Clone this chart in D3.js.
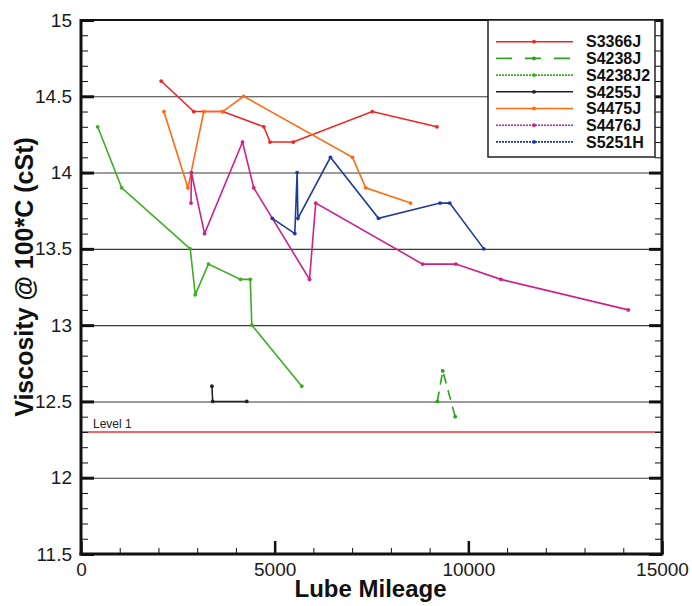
<!DOCTYPE html>
<html>
<head>
<meta charset="utf-8">
<script src="https://cdn.jsdelivr.net/npm/d3@7"></script>
<style>
  body { margin: 0; background: #fff; }
  svg { display: block; font-family: 'Liberation Sans', Arial, sans-serif; }
</style>
</head>
<body>
<div id="app"></div>
<script>
'use strict'

// series names in legend order
const seriesNames = ['S3366J', 'S4238J', 'S4238J2', 'S4255J', 'S4475J', 'S4476J', 'S5251H']
const seriesColors = ['#f02424', '#2e9e1e', '#3cae22', '#222222', '#ff6a12', '#cc2288', '#1d3b9a']

// lube mileage / viscosity
const mileS3366J = [2070, 2910, 3660, 4720, 4880, 5480, 7520, 9190]
const viscS3366J = [14.6, 14.4, 14.4, 14.3, 14.2, 14.2, 14.4, 14.3]

const mileS4238J = [9200, 9340, 9660]
const viscS4238J = [12.5, 12.7, 12.4]

const mileS4238J2 = [430, 1050, 2820, 2950, 3290, 4120, 4370, 4410, 5700]
const viscS4238J2 = [14.3, 13.9, 13.5, 13.2, 13.4, 13.3, 13.3, 13.0, 12.6]

const mileS4255J = [3380, 3400, 4280]
const viscS4255J = [12.6, 12.5, 12.5]

const mileS4475J = [2140, 2760, 3170, 3660, 4200, 7010, 7350, 8510]
const viscS4475J = [14.4, 13.9, 14.4, 14.4, 14.5, 14.1, 13.9, 13.8]

const mileS4476J = [2840, 2850, 3190, 4170, 4460, 5900, 6060, 8820, 9680, 10840, 14130]
const viscS4476J = [13.8, 14.0, 13.6, 14.2, 13.9, 13.3, 13.8, 13.4, 13.4, 13.3, 13.1]

const mileS5251H = [4940, 5520, 5580, 5600, 6440, 7680, 9270, 9520, 10400]
const viscS5251H = [13.7, 13.6, 14.0, 13.7, 14.1, 13.7, 13.8, 13.8, 13.5]

const levelName = 'Level 1'
const levelValue = 12.3

const xMajorTicks = [0, 5000, 10000, 15000]
const yMajorTicks = [11.5, 12, 12.5, 13, 13.5, 14, 14.5, 15]

const allMiles = [mileS3366J, mileS4238J, mileS4238J2, mileS4255J, mileS4475J, mileS4476J, mileS5251H]
const allVisc = [viscS3366J, viscS4238J, viscS4238J2, viscS4255J, viscS4475J, viscS4476J, viscS5251H]

const series = seriesNames.map((name, i) => ({
	name,
	color: seriesColors[i],
	values: allMiles[i].map((m, j) => ({ mile: m, visc: allVisc[i][j] }))
}))

// legend line styles (dashed / dotted), the plot uses them only for S4238J
const legendDash = { S4238J: '16,13', S4238J2: '2,1', S4476J: '2,1', S5251H: '2,1' }
const plotDash = { S4238J: '10,7' }

const main = () => {
	const margin = { top: 20, right: 30, bottom: 52, left: 81 }
	const width = 692 - margin.left - margin.right
	const height = 606 - margin.top - margin.bottom

	const x = d3.scaleLinear().domain([0, 15000]).range([0, width])
	const y = d3.scaleLinear().domain([11.5, 15]).range([height, 0])

	const svg = d3.select('#app').append('svg')
		.attr('width', 692)
		.attr('height', 606)
		.append('g')
		.attr('transform', `translate(${margin.left}, ${margin.top})`)

	// gridlines
	svg.append('g')
		.attr('class', 'grid')
		.call(d3.axisLeft(y).tickValues([12, 12.5, 13, 13.5, 14, 14.5]).tickSize(-width).tickFormat(''))
		.call(g => g.select('.domain').remove())
		.call(g => g.selectAll('line').attr('stroke', '#3a3a3a').attr('stroke-width', 1.1))

	// level line
	svg.append('line')
		.attr('x1', 0).attr('x2', width)
		.attr('y1', y(levelValue)).attr('y2', y(levelValue))
		.attr('stroke', '#f03030')
		.attr('stroke-width', 1.5)
	svg.append('text')
		.attr('x', 12)
		.attr('y', y(levelValue) - 4)
		.style('font-size', '12px')
		.style('fill', '#222')
		.text(levelName)

	/*
	 * series lines and markers
	 */
	const line = d3.line().x(d => x(d.mile)).y(d => y(d.visc))

	const groups = svg.selectAll('.series')
		.data(series)
		.enter().append('g')
		.attr('class', 'series')

	groups.append('path')
		.attr('d', d => line(d.values))
		.attr('fill', 'none')
		.attr('stroke', d => d.color)
		.attr('stroke-width', 1.6)
		.attr('stroke-dasharray', d => plotDash[d.name] || null)

	groups.selectAll('circle')
		.data(d => d.values.map(v => ({ ...v, color: d.color })))
		.enter().append('circle')
		.attr('cx', d => x(d.mile))
		.attr('cy', d => y(d.visc))
		.attr('r', 1.9)
		.attr('fill', d => d.color)

	/*
	 * ticks on all four frame sides
	 */
	const styleTicks = (g, w) => {
		g.select('.domain').remove()
		g.selectAll('line').attr('stroke', '#111').attr('stroke-width', w)
	}
	const yMinor = d3.range(11.5, 15.001, 0.1)
	const xMinor = d3.range(0, 15001, 1000)

	svg.append('g')
		.call(d3.axisLeft(y).tickValues(yMinor).tickSize(-7).tickFormat(''))
		.call(g => styleTicks(g, 1))
	svg.append('g')
		.attr('transform', `translate(${width}, 0)`)
		.call(d3.axisRight(y).tickValues(yMinor).tickSize(-7).tickFormat(''))
		.call(g => styleTicks(g, 1))
	svg.append('g')
		.attr('transform', `translate(${width}, 0)`)
		.call(d3.axisRight(y).tickValues(yMajorTicks).tickSize(-13).tickFormat(''))
		.call(g => styleTicks(g, 3))
	svg.append('g')
		.attr('transform', `translate(0, ${height})`)
		.call(d3.axisBottom(x).tickValues(xMinor).tickSize(-6).tickFormat(''))
		.call(g => styleTicks(g, 1))

	// left axis with labels
	svg.append('g')
		.attr('class', 'y axis')
		.call(d3.axisLeft(y).tickValues(yMajorTicks).tickSize(-13).tickPadding(9).tickFormat(d3.format('')))
		.call(g => styleTicks(g, 3))
		.call(g => g.selectAll('text').style('font-size', '19px').style('fill', '#1a1a1a'))

	// bottom axis with labels
	svg.append('g')
		.attr('class', 'x axis')
		.attr('transform', `translate(0, ${height})`)
		.call(d3.axisBottom(x).tickValues(xMajorTicks).tickSize(-13).tickPadding(9).tickFormat(d3.format('')))
		.call(g => styleTicks(g, 2.5))
		.call(g => g.selectAll('text').style('font-size', '19px').style('fill', '#1a1a1a'))

	// frame
	const frame = svg.append('g').attr('stroke', '#111').attr('fill', 'none')
	frame.append('line').attr('x1', 0).attr('x2', 0).attr('y1', -1).attr('y2', height + 1.5).attr('stroke-width', 3)
	frame.append('line').attr('x1', -1.5).attr('x2', width + 1.5).attr('y1', height).attr('y2', height).attr('stroke-width', 3)
	frame.append('line').attr('x1', width).attr('x2', width).attr('y1', -1).attr('y2', height).attr('stroke-width', 3)
	frame.append('line').attr('x1', 0).attr('x2', width).attr('y1', 0).attr('y2', 0).attr('stroke-width', 2)

	// axis titles
	svg.append('text')
		.attr('x', width / 2 - 1)
		.attr('y', height + 43)
		.attr('text-anchor', 'middle')
		.style('font-size', '24px')
		.style('font-weight', 'bold')
		.style('fill', '#111')
		.text('Lube Mileage')

	svg.append('text')
		.attr('transform', `translate(${-48}, ${277 - margin.top}) rotate(-90)`)
		.attr('text-anchor', 'middle')
		.style('font-size', '25px')
		.style('font-weight', 'bold')
		.style('fill', '#111')
		.text('Viscosity @ 100*C (cSt)')

	/*
	 * legend
	 */
	const legend = svg.append('g')
		.attr('transform', `translate(${488 - margin.left}, 0)`)

	legend.append('rect')
		.attr('width', 167)
		.attr('height', 137)
		.attr('fill', '#fff')
		.attr('stroke', '#222')
		.attr('stroke-width', 1.5)

	const rows = legend.selectAll('.row')
		.data(series)
		.enter().append('g')
		.attr('class', 'row')
		.attr('transform', (d, i) => `translate(0, ${21.7 + i * 16.7})`)

	rows.append('line')
		.attr('x1', 8).attr('x2', 85)
		.attr('stroke', d => d.color)
		.attr('stroke-width', 1.6)
		.attr('stroke-dasharray', d => legendDash[d.name] || null)

	rows.append('circle')
		.attr('cx', 46)
		.attr('r', 1.9)
		.attr('fill', d => d.color)

	rows.append('text')
		.attr('x', 98)
		.attr('dy', '0.36em')
		.style('font-size', '16px')
		.style('font-weight', 'bold')
		.style('fill', '#111')
		.text(d => d.name)
}

main()
</script>
</body>
</html>
